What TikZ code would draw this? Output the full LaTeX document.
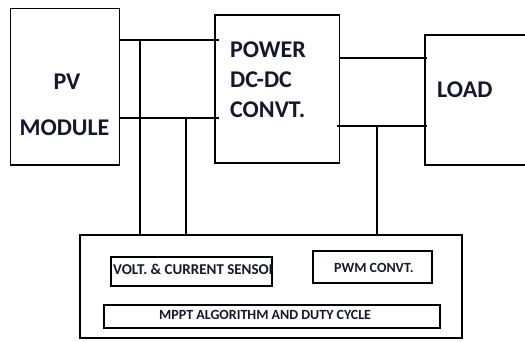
\documentclass[tikz,border=0pt]{standalone}
\usepackage{fontspec}
\setmainfont{Carlito}
\definecolor{txt}{RGB}{22,22,48}
\begin{document}
\begin{tikzpicture}[x=1pt,y=-1pt,
 box/.style={draw, line width=1.6pt, anchor=north west, inner sep=0pt},
 wire/.style={line width=1.6pt},
 big/.style={font=\bfseries\fontsize{24}{24}\selectfont, text=txt, inner sep=0pt, anchor=base},
 bigl/.style={big, anchor=base west},
 small/.style={font=\bfseries\fontsize{14}{14}\selectfont, text=txt, inner sep=0pt, anchor=base west}]
\clip (0,0) rectangle (525,341);
\fill[white] (0,0) rectangle (525,341);
% main blocks
\node[box, minimum width=109pt, minimum height=156.5pt] (pv) at (9.5,7.5) {};
\node[box, minimum width=124.5pt, minimum height=148pt] (power) at (214,14) {};
\node[box, minimum width=130pt, minimum height=130pt] (load) at (424.3,34) {};
\node[box, minimum width=382pt, minimum height=103pt] (ctrl) at (79,234) {};
\node[box, minimum width=161pt, minimum height=29pt] (sens) at (110,256) {};
\node[box, minimum width=119pt, minimum height=32pt] (pwm) at (312,250) {};
\node[box, minimum width=336pt, minimum height=23pt] (mppt) at (103,304) {};
% texts
\node[big] (pvt1) at (67,89) {PV};
\node[big] (pvt2) at (64.5,135) {MODULE};
\node[bigl] (pw1) at (230,57) {POWER};
\node[bigl] (pw2) at (230,87) {DC-DC};
\node[bigl] (pw3) at (230,117) {CONVT.};
\node[bigl] (ld) at (437,97) {LOAD};
\begin{scope}
\clip (sens.north west) rectangle (sens.south east);
\node[small, font=\bfseries\fontsize{15}{15}\selectfont] (senst) at (113,274.5) {VOLT. \& CURRENT SENSOR};
\end{scope}
\node[small] (pwmt) at (334,272.5) {PWM CONVT.};
\node[small] (mpptt) at (159,319.5) {MPPT ALGORITHM AND DUTY CYCLE};
% junction points
\coordinate (j1) at (140,40);
\coordinate (j2) at (140,118);
\coordinate (j3) at (186,118);
\coordinate (l1) at (377,58);
\coordinate (j4) at (377,126);
% connectors
\draw[wire] (pv.east |- j1) -- ([xshift=5pt]power.west |- j1);
\draw[wire] (pv.east |- j2) -- ([xshift=5pt]power.west |- j2);
\draw[wire] (power.east |- l1) -- ([xshift=3pt]load.west |- l1);
\draw[wire] ([xshift=-3pt]power.east |- j4) -- ([xshift=3pt]load.west |- j4);
\draw[wire] (j1) -- (j1 |- ctrl.north);
\draw[wire] (j3) -- (j3 |- ctrl.north);
\draw[wire] (j4) -- (j4 |- ctrl.north);
\end{tikzpicture}
\end{document}
